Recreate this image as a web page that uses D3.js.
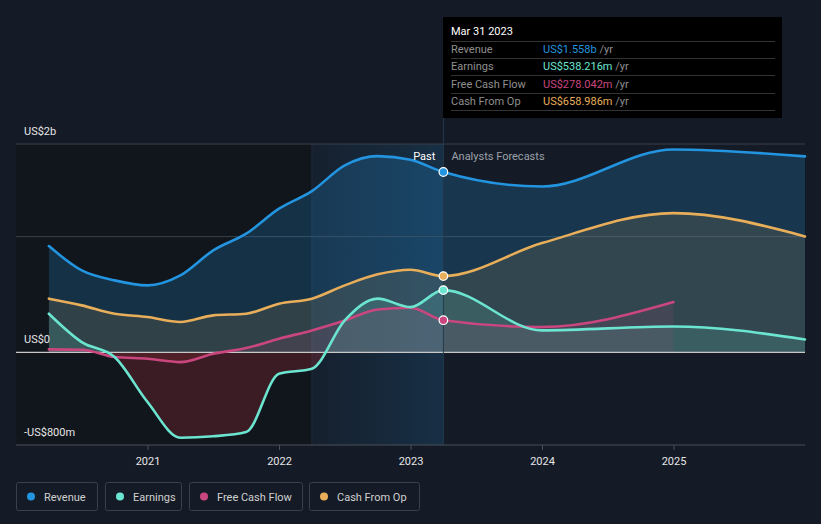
<!DOCTYPE html>
<html><head><meta charset="utf-8">
<script src="https://cdn.jsdelivr.net/npm/d3@7"></script>
<style>
html,body{margin:0;padding:0;background:#151b26;}
svg{display:block;font-family:Roboto,"Noto Sans",sans-serif;}
</style></head>
<body><svg id="c" width="821" height="524"></svg>
<script>
// ---- data ----
const pastDates = [2020.25,2020.5,2020.75,2021.0,2021.25,2021.5,2021.75,2022.0,2022.25,2022.5,2022.75,2023.0,2023.25];
const revenuePast = [918,708,622,579,665,881,1025,1241,1393,1615,1695,1664,1558];
const earningsPast = [334,89,-40,-429,-737,-725,-688,-184,-141,276,464,391,538];
const fcfPast = [26,23,-40,-55,-84,-12,37,118,190,276,371,386,278];
const cashOpPast = [464,406,334,305,262,320,334,420,464,579,674,714,659];

const fcDates = [2023.25,2024.0,2025.0,2026.0];
const revenueFc = [1558,1433,1753,1693];
const earningsFc = [538,190,224,112];
const cashOpFc = [659,944,1203,1002];
const fcfFcDates = [2023.25,2024.0,2025.0];
const fcfFc = [278,219,435];

const yearTicks = [2021,2022,2023,2024,2025];
const yLabels = ["US$2b","US$0","-US$800m"];
const yLabelValues = [1800,0,-800];
const seriesNames = ["Revenue","Earnings","Free Cash Flow","Cash From Op"];
const seriesColors = ["#2394df","#6ce5d0","#c9467f","#e8ae5a"];
const tipTitle = "Mar 31 2023";
const tipValues = ["US$1.558b","US$538.216m","US$278.042m","US$658.986m"];

(function(){
// ---- scales ----
const svg = d3.select("#c");
const x = d3.scaleLinear().domain([2020,2026]).range([16,805]);
const y = d3.scaleLinear().domain([-800,1800]).range([445,144]);
const yTop = y(1800), yBot = y(-800), y0 = y(0);

const defs = svg.append("defs");
const hg = defs.append("linearGradient").attr("id","hl").attr("x1",0).attr("x2",1).attr("y1",0).attr("y2",0);
hg.append("stop").attr("offset",0).attr("stop-color","#2394df").attr("stop-opacity",0.04);
hg.append("stop").attr("offset",1).attr("stop-color","#2394df").attr("stop-opacity",0.17);
defs.append("clipPath").attr("id","above").append("rect").attr("x",0).attr("y",0).attr("width",821).attr("height",y0);
defs.append("clipPath").attr("id","below").append("rect").attr("x",0).attr("y",y0).attr("width",821).attr("height",200);

// background regions
svg.append("rect").attr("x",x(2020)).attr("y",yTop).attr("width",x(2022.25)-x(2020)).attr("height",yBot-yTop).attr("fill","#10141b").attr("opacity",0.85);
svg.append("rect").attr("x",x(2022.25)).attr("y",yTop).attr("width",x(2023.25)-x(2022.25)).attr("height",yBot-yTop).attr("fill","url(#hl)");
svg.append("line").attr("x1",x(2022.25)).attr("x2",x(2022.25)).attr("y1",yTop).attr("y2",yBot).attr("stroke","#1e2b3a").attr("stroke-width",1);

// gridlines
[1800,1000].forEach(v=>svg.append("line").attr("x1",16).attr("x2",805).attr("y1",y(v)).attr("y2",y(v)).attr("stroke","#3a404b").attr("stroke-width",1));

const zip = (d,v)=>d.map((t,i)=>({t,v:v[i]}));
const allRev = zip(pastDates,revenuePast).concat(zip(fcDates,revenueFc).slice(1));
const allEarn = zip(pastDates,earningsPast).concat(zip(fcDates,earningsFc).slice(1));
const allFcf = zip(pastDates,fcfPast).concat(zip(fcfFcDates,fcfFc).slice(1));
const allCash = zip(pastDates,cashOpPast).concat(zip(fcDates,cashOpFc).slice(1));

const area = d3.area().x(d=>x(d.t)).y0(y0).y1(d=>y(d.v)).curve(d3.curveMonotoneX);
const line = d3.line().x(d=>x(d.t)).y(d=>y(d.v)).curve(d3.curveMonotoneX);

// fills
svg.append("path").datum(allRev).attr("d",area).attr("fill","#2394df").attr("opacity",0.22).attr("clip-path","url(#above)");
svg.append("path").datum(allCash).attr("d",area).attr("fill","#e8ae5a").attr("opacity",0.13).attr("clip-path","url(#above)");
svg.append("path").datum(allEarn).attr("d",area).attr("fill","#6ce5d0").attr("opacity",0.15).attr("clip-path","url(#above)");
svg.append("path").datum(allEarn).attr("d",area).attr("fill","#8a2a35").attr("opacity",0.36).attr("clip-path","url(#below)");
svg.append("path").datum(allFcf).attr("d",area).attr("fill","#c9467f").attr("opacity",0.12).attr("clip-path","url(#above)");
svg.append("path").datum(allFcf).attr("d",area).attr("fill","#8a2a35").attr("opacity",0.25).attr("clip-path","url(#below)");

// zero line and axis
svg.append("line").attr("x1",16).attr("x2",805).attr("y1",y0).attr("y2",y0).attr("stroke","#c8c8c8").attr("stroke-width",1.2);
svg.append("line").attr("x1",16).attr("x2",805).attr("y1",yBot).attr("y2",yBot).attr("stroke","#4a505a").attr("stroke-width",1);

// vertical marker
svg.append("line").attr("x1",x(2023.25)).attr("x2",x(2023.25)).attr("y1",118).attr("y2",yBot).attr("stroke","#26384c").attr("stroke-width",1);

// lines
const lines = [allRev,allEarn,allFcf,allCash];
[3,2,1,0].forEach(i=>{
  svg.append("path").datum(lines[i]).attr("d",line).attr("fill","none").attr("stroke",seriesColors[i]).attr("stroke-width",2.6).attr("stroke-linecap","round");
});

// dots at Mar 2023
const dotVals=[revenuePast[12],earningsPast[12],fcfPast[12],cashOpPast[12]];
dotVals.forEach((v,i)=>svg.append("circle").attr("cx",x(2023.25)).attr("cy",y(v)).attr("r",4.3).attr("fill",seriesColors[i]).attr("stroke","#fff").attr("stroke-width",1.2));

// x axis ticks/labels
const xa = d3.axisBottom(x).tickValues(yearTicks).tickFormat(d3.format("d")).tickSize(5).tickPadding(5);
const g = svg.append("g").attr("transform",`translate(0,${yBot})`).call(xa);
g.select(".domain").remove();
g.selectAll(".tick line").attr("stroke","#4a505a");
g.selectAll(".tick text").attr("fill","#e6e6e6").attr("font-size",11).attr("font-family","Roboto, sans-serif").attr("dy","0.9em");

// y labels
yLabels.forEach((t,i)=>svg.append("text").attr("x",24).attr("y",y(yLabelValues[i]) - 9).attr("fill","#e6e6e6").attr("font-size",11).text(t));

// Past / forecast labels
svg.append("text").attr("x",x(2023.25)-8).attr("y",160).attr("text-anchor","end").attr("fill","#ffffff").attr("font-size",11).text("Past");
svg.append("text").attr("x",x(2023.25)+8).attr("y",160).attr("fill","#9aa0a8").attr("font-size",11).text("Analysts Forecasts");

// tooltip
const tx=443, ty=17;
svg.append("rect").attr("x",tx).attr("y",ty).attr("width",339).attr("height",101).attr("fill","#000");
svg.append("text").attr("x",tx+8).attr("y",ty+18).attr("fill","#fff").attr("font-size",11).text(tipTitle);
const rowY=[49,66,84,101];
[41,58,75,93,110].forEach(yy=>svg.append("line").attr("x1",tx+8).attr("x2",tx+332).attr("y1",yy+0.5).attr("y2",yy+0.5).attr("stroke","#333").attr("stroke-width",1));
seriesNames.forEach((n,i)=>{
  svg.append("text").attr("x",tx+8).attr("y",rowY[i]+4).attr("fill","#8f8f8f").attr("font-size",11).text(n);
  const t=svg.append("text").attr("x",tx+100).attr("y",rowY[i]+4).attr("font-size",11);
  t.append("tspan").attr("fill",seriesColors[i]).text(tipValues[i]);
  t.append("tspan").attr("fill","#8f8f8f").text(" /yr");
});

// legend
const lx=[16,105,189,309], lw=[81,76,113,110];
seriesNames.forEach((n,i)=>{
  const gg=svg.append("g").attr("transform",`translate(${lx[i]},482)`);
  gg.append("rect").attr("x",0.5).attr("y",0.5).attr("width",lw[i]).attr("height",28).attr("rx",2).attr("fill","none").attr("stroke","#3a404b");
  gg.append("circle").attr("cx",15).attr("cy",14.5).attr("r",4).attr("fill",seriesColors[i]);
  gg.append("text").attr("x",28).attr("y",18.5).attr("fill","#d0d0d0").attr("font-size",11).text(n);
});
})();
</script></body></html>
